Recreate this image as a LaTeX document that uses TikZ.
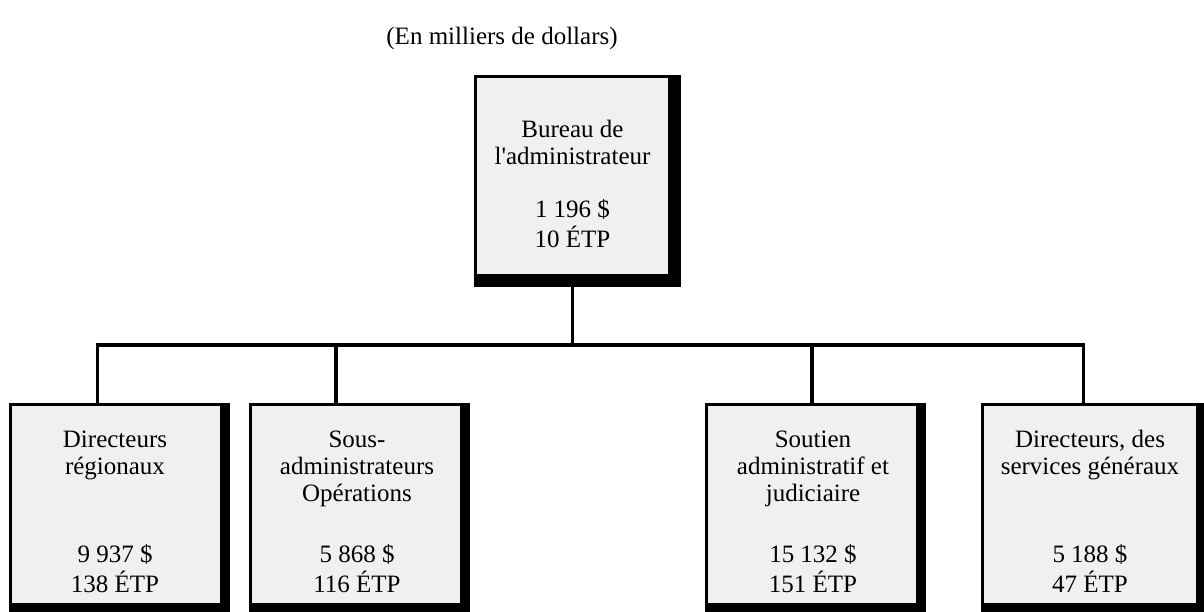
\documentclass[tikz,border=0pt]{standalone}
\usepackage{fontspec}
\setmainfont{Liberation Serif}
\definecolor{boxgray}{HTML}{F0F0F0}
\tikzset{
  shadowbox/.style={fill=black, draw=none, inner sep=0pt, outer sep=0pt, anchor=north west},
  facebox/.style={fill=boxgray, draw=none, inner sep=0pt, outer sep=0pt, anchor=north west},
  boxtext/.style={align=center, anchor=north, inner sep=0pt, font=\fontsize{25}{27}\selectfont},
  titletext/.style={anchor=base, inner sep=0pt, font=\fontsize{25}{27}\selectfont},
  conn/.style={line width=3.5pt, line join=miter}
}
\begin{document}
\begin{tikzpicture}[x=1pt,y=-1pt]
\useasboundingbox (0,0) rectangle (1204,612);
% title
\node[titletext] (title) at (502,45) {(En milliers de dollars)};
% top box
\node[shadowbox, minimum width=207pt, minimum height=212pt] (tops) at (474,75) {};
\node[facebox, minimum width=191pt, minimum height=196pt] (topf) at (477,78) {};
\node[boxtext] (topt) at (572.5,118.1) {\strut Bureau de\\l\textquotesingle administrateur};
\node[boxtext] (topn) at (572.5,198.1) {\strut 1 196 \$\\10 ÉTP};
% bottom boxes
\node[shadowbox, minimum width=221pt, minimum height=209pt] (b1s) at (9,403) {};
\node[facebox, minimum width=208pt, minimum height=197pt] (b1f) at (12,406) {};
\node[shadowbox, minimum width=221pt, minimum height=209pt] (b2s) at (249,403) {};
\node[facebox, minimum width=208pt, minimum height=197pt] (b2f) at (252,406) {};
\node[shadowbox, minimum width=221pt, minimum height=209pt] (b3s) at (705,403) {};
\node[facebox, minimum width=208pt, minimum height=197pt] (b3f) at (708,406) {};
\node[shadowbox, minimum width=223pt, minimum height=209pt] (b4s) at (981,403) {};
\node[facebox, minimum width=212pt, minimum height=197pt] (b4f) at (984,406) {};
% texts
\node[boxtext] (b1t) at (115,428.1) {\strut Directeurs\\régionaux};
\node[boxtext] (b1n) at (115,543.1) {\strut 9 937 \$\\138 ÉTP};
\node[boxtext] (b2t) at (357,428.1) {\strut Sous-\\administrateurs\\Opérations};
\node[boxtext] (b2n) at (357,543.1) {\strut 5 868 \$\\116 ÉTP};
\node[boxtext] (b3t) at (813,428.1) {\strut Soutien\\administratif et\\judiciaire};
\node[boxtext] (b3n) at (813,543.1) {\strut 15 132 \$\\151 ÉTP};
\node[boxtext] (b4t) at (1090,428.1) {\strut Directeurs, des\\services généraux};
\node[boxtext] (b4n) at (1090,543.1) {\strut 5 188 \$\\47 ÉTP};
% connectors
\coordinate (j) at (572.5,345);
\coordinate (h1) at (97.5,345);
\coordinate (h2) at (336,345);
\coordinate (h3) at (812,345);
\coordinate (h4) at (1083.5,345);
\draw[conn] (topf.south) -- (j);
\draw[conn] (h1 |- b1s.north) -- (h1) -- (h4) -- (h4 |- b4s.north);
\draw[conn] (h2) -- (h2 |- b2s.north);
\draw[conn] (h3) -- (h3 |- b3s.north);
\end{tikzpicture}
\end{document}
